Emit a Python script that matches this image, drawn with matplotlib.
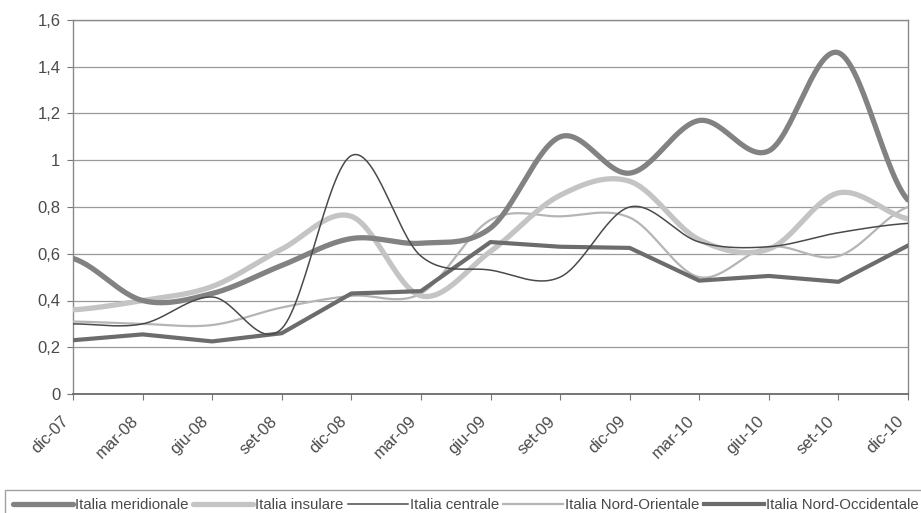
import numpy as np
import matplotlib.pyplot as plt
import matplotlib.transforms as mtrans

plt.rcParams['font.family'] = ['Liberation Sans', 'DejaVu Sans']

# quarterly categories
mesi = ['dic-07', 'mar-08', 'giu-08', 'set-08', 'dic-08', 'mar-09', 'giu-09',
        'set-09', 'dic-09', 'mar-10', 'giu-10', 'set-10', 'dic-10']

meridionale = [0.58, 0.40, 0.43, 0.55, 0.665, 0.645, 0.71, 1.10, 0.945, 1.17, 1.04, 1.46, 0.83]
insulare = [0.36, 0.40, 0.46, 0.62, 0.76, 0.42, 0.61, 0.85, 0.91, 0.66, 0.62, 0.86, 0.75]
centrale = [0.30, 0.30, 0.415, 0.28, 1.02, 0.59, 0.53, 0.50, 0.80, 0.65, 0.63, 0.69, 0.73]
nord_or = [0.31, 0.30, 0.295, 0.37, 0.42, 0.43, 0.745, 0.76, 0.755, 0.50, 0.63, 0.59, 0.80]
nord_occ = [0.23, 0.255, 0.225, 0.26, 0.43, 0.44, 0.65, 0.63, 0.625, 0.485, 0.505, 0.48, 0.635]

nomi = ['Italia meridionale', 'Italia insulare', 'Italia centrale',
        'Italia Nord-Orientale', 'Italia Nord-Occidentale']


def smooth(y, n=30):
    # excel-like smoothed line (catmull-rom)
    y = np.asarray(y, float)
    p = np.concatenate([[y[0]], y, [y[-1]]])
    xs, ys = [], []
    t = np.linspace(0, 1, n, endpoint=False)
    for i in range(len(y) - 1):
        p0, p1, p2, p3 = p[i], p[i + 1], p[i + 2], p[i + 3]
        b1 = p1 + (p2 - p0) / 6
        b2 = p2 - (p3 - p1) / 6
        yy = (1 - t) ** 3 * p1 + 3 * (1 - t) ** 2 * t * b1 + 3 * (1 - t) * t ** 2 * b2 + t ** 3 * p2
        xs.append(i + t)
        ys.append(yy)
    xs.append([len(y) - 1])
    ys.append([y[-1]])
    return np.concatenate(xs), np.concatenate(ys)


fig = plt.figure(figsize=(9.21, 5.13), dpi=100)
ax = fig.add_axes([73 / 921, 1 - 394 / 513, (908 - 73) / 921, (394 - 20) / 513])

x = np.arange(len(mesi))
l1, = ax.plot(*smooth(meridionale), color='#828282', lw=3.8, solid_capstyle='round', zorder=5)
l2, = ax.plot(*smooth(insulare), color='#c4c4c4', lw=3.8, solid_capstyle='round', zorder=4)
l3, = ax.plot(*smooth(centrale), color='#4a4a4a', lw=1.1, zorder=6)
l4, = ax.plot(*smooth(nord_or), color='#b5b5b5', lw=1.6, zorder=3)
l5, = ax.plot(x, nord_occ, color='#6c6c6c', lw=3.0, zorder=4)

ax.set_xlim(0, len(mesi) - 1)
ax.set_ylim(0, 1.6)
ax.set_yticks(np.arange(0, 1.61, 0.2))
ax.set_yticklabels(['0', '0,2', '0,4', '0,6', '0,8', '1', '1,2', '1,4', '1,6'])
ax.set_xticks(x)
ax.set_xticklabels(mesi, rotation=45, ha='right', rotation_mode='anchor')
ax.tick_params(axis='both', colors='#777777', labelcolor='#4a4a4a', labelsize=12, length=4)
ax.tick_params(axis='y', pad=5)
ax.tick_params(axis='x', pad=10)
shift = mtrans.ScaledTranslation(-12 / 100, 0, fig.dpi_scale_trans)
for lab in ax.get_xticklabels():
    lab.set_transform(lab.get_transform() + shift)
ax.grid(axis='y', color='#9a9a9a', lw=0.9)
ax.set_axisbelow(True)
for s in ax.spines.values():
    s.set_color('#8a8a8a')
    s.set_linewidth(1.0)
ax.spines['bottom'].set_color('#6a6a6a')
ax.spines['bottom'].set_linewidth(1.3)

leg = fig.legend([l1, l2, l3, l4, l5], nomi, ncol=5, loc='lower left',
                 bbox_to_anchor=(5 / 921, -0.015), fontsize=10.8, handlelength=4.0,
                 handletextpad=0.12, columnspacing=0.3, borderaxespad=0,
                 fancybox=False, frameon=True, borderpad=0.55)
leg.get_frame().set_edgecolor('#8a8a8a')
leg.get_frame().set_linewidth(1.0)
for t in leg.get_texts():
    t.set_color('#4a4a4a')

fig.savefig('out.png', dpi=100)
